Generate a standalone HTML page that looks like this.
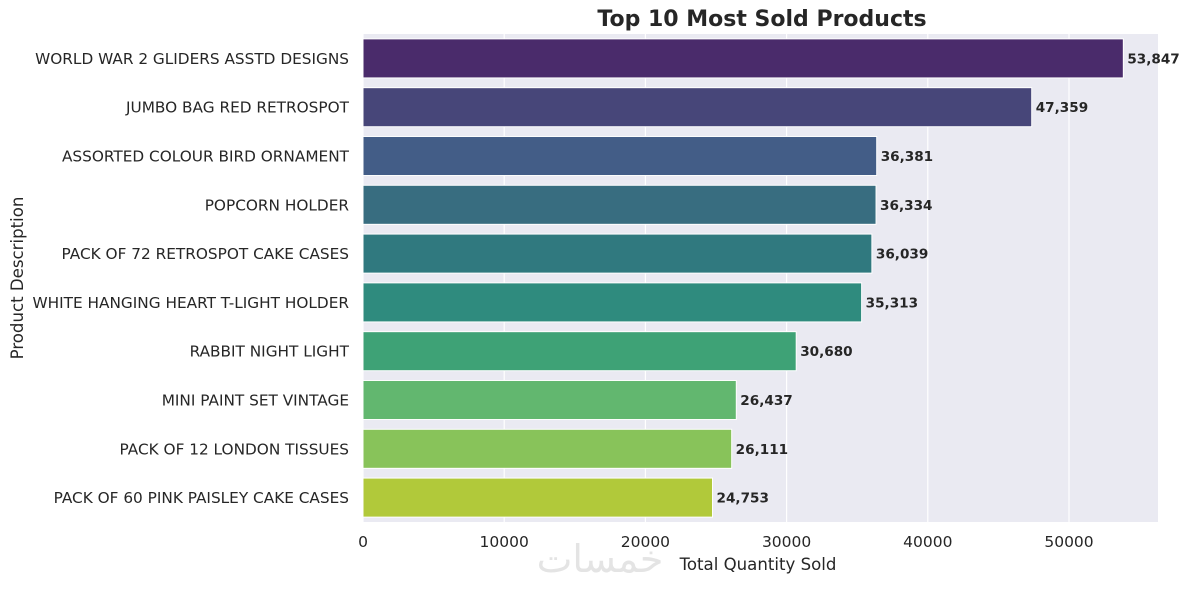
<!DOCTYPE html>
<html><head><meta charset="utf-8"><style>
body{margin:0;background:#fff;font-family:"Liberation Sans","DejaVu Sans",sans-serif}
svg text{font-family:"DejaVu Sans","Liberation Sans",sans-serif}
</style></head><body>
<svg id="c" width="1190" height="584" xmlns="http://www.w3.org/2000/svg"></svg>
<script>
const categories=["WORLD WAR 2 GLIDERS ASSTD DESIGNS","JUMBO BAG RED RETROSPOT","ASSORTED COLOUR BIRD ORNAMENT","POPCORN HOLDER","PACK OF 72 RETROSPOT CAKE CASES","WHITE HANGING HEART T-LIGHT HOLDER","RABBIT NIGHT LIGHT","MINI PAINT SET VINTAGE ","PACK OF 12 LONDON TISSUES ","PACK OF 60 PINK PAISLEY CAKE CASES"];
const values=[53847,47359,36381,36334,36039,35313,30680,26437,26111,24753];
const xTicks=[0,10000,20000,30000,40000,50000];
const colors=["#4a2b6b","#474679","#435d87","#386d80","#30797f","#2f8b7e","#3ea276","#62b76f","#88c35a","#b1c93a"];
const svg=document.getElementById('c');
const NS="http://www.w3.org/2000/svg";
const L=363,R=1158,T=34,B=522;
const x=v=>L+v*(1069-363)/50000;
const band=(B-T)/categories.length;
const y=i=>T+band*i;
function mk(t,a,p){const e=document.createElementNS(NS,t);for(const k in a)e.setAttribute(k,a[k]);(p||svg).appendChild(e);return e;}
const bg=mk('rect',{x:L,y:T,width:R-L,height:B-T,fill:'#eaeaf2'});


xTicks.forEach(t=>{
 const g=mk('line',{x1:x(t),x2:x(t),y1:T,y2:B,stroke:'#fff','stroke-width':1.2});
 
 
 const tl=mk('text',{x:x(t),y:547,'text-anchor':'middle','font-size':15.5,fill:'#262626'});
 tl.textContent=t;
 
 
});
categories.forEach((c,i)=>{
 const cy=y(i)+band/2,h=band*0.8;
 const r=mk('rect',{x:L,y:cy-h/2,width:x(values[i])-L,height:h,fill:colors[i],stroke:'#fff','stroke-width':1});
 
 
 const lb=mk('text',{x:x(values[i])+4,y:cy+5,'font-size':13.6,'font-weight':'bold',fill:'#262626'});
 lb.textContent=values[i].toLocaleString('en-US');
 
 
 const tl=mk('text',{x:349,y:cy+5.5,'text-anchor':'end','font-size':15.3,fill:'#262626'});
 tl.textContent=c;
 
 
});
const ti=mk('text',{x:762,y:26,'text-anchor':'middle','font-size':22,'font-weight':'bold',fill:'#262626'});
ti.textContent="Top 10 Most Sold Products";


const wm=mk('text',{x:600,y:572,'text-anchor':'middle','font-size':38,fill:'#e4e4e4','font-family':'Noto Sans CJK SC, sans-serif'});
wm.textContent="خمسات";


const xt=mk('text',{x:758,y:570,'text-anchor':'middle','font-size':16.6,fill:'#262626'});
xt.textContent="Total Quantity Sold";


const yt=mk('text',{x:0,y:0,'text-anchor':'middle','font-size':16.6,fill:'#262626',transform:'translate(23,278) rotate(-90)'});
yt.textContent="Product Description";


</script>
</body></html>
